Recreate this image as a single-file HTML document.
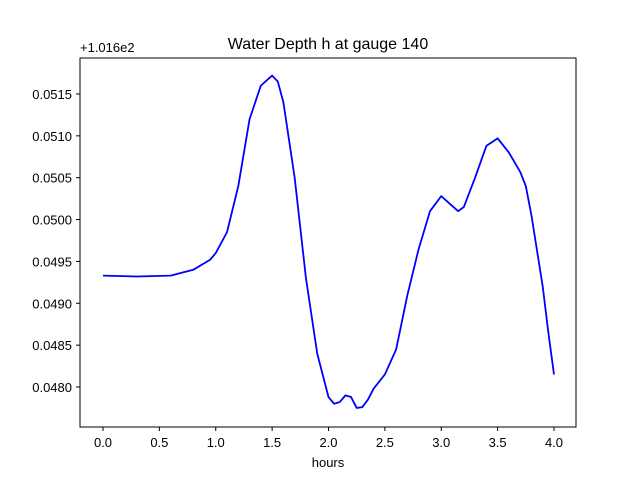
<!DOCTYPE html>
<html><head><meta charset="utf-8"><style>
body{margin:0;background:#fff;}
svg{font-family:"Liberation Sans","DejaVu Sans",sans-serif;}
</style></head><body>
<svg id="chart" width="640" height="480">
<rect x="0" y="0" width="640" height="480" fill="#fff"/>
<text x="328" y="49" text-anchor="middle" font-size="16">Water Depth h at gauge 140</text>
<text x="80" y="52" font-size="13">+1.016e2</text>
<text x="328" y="467" text-anchor="middle" font-size="13">hours</text>
<g id="ticks"></g>
<polyline id="line" fill="none" stroke="#0000ff" stroke-width="1.8" stroke-linejoin="round"/>
<rect x="80" y="58" width="496" height="369" fill="none" stroke="#000" stroke-width="1"/>
</svg>
<script>
const hours=[0,0.3,0.6,0.8,0.95,1.0,1.1,1.2,1.3,1.4,1.5,1.55,1.6,1.7,1.8,1.9,2.0,2.05,2.1,2.15,2.2,2.25,2.3,2.35,2.4,2.5,2.6,2.7,2.8,2.9,3.0,3.05,3.15,3.2,3.3,3.4,3.5,3.6,3.7,3.75,3.8,3.9,3.95,4.0];
const depth=[0.04933,0.04932,0.04933,0.0494,0.04952,0.0496,0.04985,0.0504,0.0512,0.0516,0.05172,0.05165,0.0514,0.0505,0.0493,0.0484,0.04788,0.0478,0.04782,0.0479,0.04788,0.04775,0.04776,0.04785,0.04798,0.04815,0.04845,0.0491,0.04965,0.0501,0.05028,0.05022,0.0501,0.05015,0.0505,0.05088,0.05097,0.0508,0.05057,0.0504,0.05005,0.0492,0.04865,0.04815];
const xTicks=[0,0.5,1,1.5,2,2.5,3,3.5,4];
const xTickLabels=["0.0","0.5","1.0","1.5","2.0","2.5","3.0","3.5","4.0"];
const yTicks=[0.048,0.0485,0.049,0.0495,0.05,0.0505,0.051,0.0515];
const yTickLabels=["0.0480","0.0485","0.0490","0.0495","0.0500","0.0505","0.0510","0.0515"];
const X=v=>103+v*(554-103)/4;
const Y=v=>387-(v-0.048)*(387-94)/0.0035;
const NS="http://www.w3.org/2000/svg";
const g=document.getElementById('ticks');
xTicks.forEach((t,i)=>{
 const l=document.createElementNS(NS,'line');
 
 
 l.setAttribute('x1',X(t));l.setAttribute('x2',X(t));l.setAttribute('y1',427);l.setAttribute('y2',431);l.setAttribute('stroke','#000');
 g.appendChild(l);
 const tx=document.createElementNS(NS,'text');
 
 
 tx.setAttribute('x',X(t));tx.setAttribute('y',447);tx.setAttribute('text-anchor','middle');tx.setAttribute('font-size','13');
 tx.textContent=xTickLabels[i];g.appendChild(tx);
});
yTicks.forEach((t,i)=>{
 const l=document.createElementNS(NS,'line');
 
 
 l.setAttribute('x1',76);l.setAttribute('x2',80);l.setAttribute('y1',Y(t));l.setAttribute('y2',Y(t));l.setAttribute('stroke','#000');
 g.appendChild(l);
 const tx=document.createElementNS(NS,'text');
 
 
 tx.setAttribute('x',72);tx.setAttribute('y',Y(t)+5);tx.setAttribute('text-anchor','end');tx.setAttribute('font-size','13');
 tx.textContent=yTickLabels[i];g.appendChild(tx);
});
document.getElementById('line').setAttribute('points',hours.map((h,i)=>X(h)+','+Y(depth[i])).join(' '));
</script>
</body></html>
